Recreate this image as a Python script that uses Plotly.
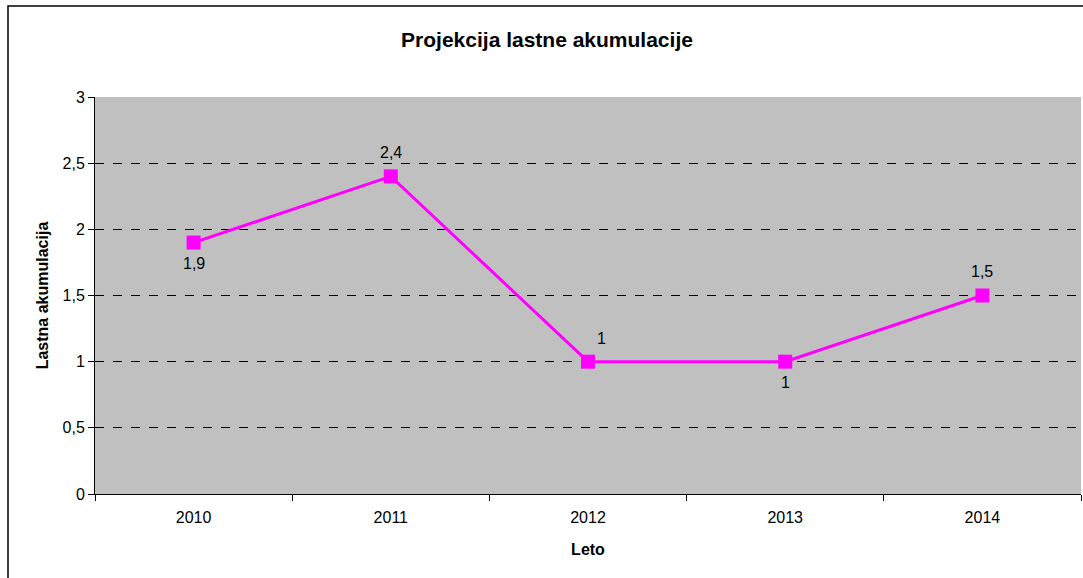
import plotly.graph_objects as go

years = ["2010", "2011", "2012", "2013", "2014"]
values = [1.9, 2.4, 1.0, 1.0, 1.5]
y_ticks = [0, 0.5, 1, 1.5, 2, 2.5, 3]

# label offsets in pixels (style, not data)
label_shifts = [(0, -21), (0, 24), (13, 23), (0, -21), (0, 24)]

labels = [("%g" % v).replace(".", ",") for v in values]
y_ticktext = [("%g" % v).replace(".", ",") for v in y_ticks]

W, H = 1083, 578
L, R, T, B = 95, 2, 97, 84
pw, ph = W - L - R, H - T - B
FONT = "Liberation Sans, Arial, sans-serif"

fig = go.Figure()
fig.add_trace(go.Scatter(
    x=years, y=values, mode="lines+markers",
    line=dict(color="#FF00FF", width=3),
    marker=dict(symbol="square", size=14, color="#FF00FF"),
    cliponaxis=False, showlegend=False, hoverinfo="x+y",
))

for i, (y, t, (dx, dy)) in enumerate(zip(values, labels, label_shifts)):
    fig.add_annotation(x=i, y=y, xref="x", yref="y", text=t, showarrow=False,
                       xshift=dx, yshift=dy,
                       font=dict(family=FONT, size=16, color="black"))

# outer chart border
fig.add_shape(type="rect", xref="paper", yref="paper",
              x0=(8 - L) / pw, x1=(W + 10 - L) / pw,
              y0=(H - B - (H + 10)) / ph, y1=(H - B - 6) / ph,
              line=dict(color="black", width=1.5), fillcolor="rgba(0,0,0,0)", layer="below")

fig.update_layout(
    width=W, height=H,
    margin=dict(l=L, r=R, t=T, b=B),
    paper_bgcolor="white", plot_bgcolor="#C0C0C0",
    font=dict(family=FONT, size=16, color="black"),
    title=dict(text="<b>Projekcija lastne akumulacije</b>", x=547 / W, xanchor="center",
               y=1 - 40 / H, yanchor="middle", font=dict(size=21)),
    xaxis=dict(type="category", tickson="boundaries", ticks="outside", ticklen=6,
               tickcolor="black", showline=True, linecolor="black", linewidth=1,
               showgrid=False, range=[-0.5, 4.5], tickfont=dict(size=16),
               ticklabelstandoff=9,
               title=dict(text="<b>Leto</b>", standoff=18, font=dict(size=16))),
    yaxis=dict(range=[0, 3], tickvals=y_ticks, ticktext=y_ticktext, ticks="outside",
               ticklen=6, tickcolor="black", showline=True, linecolor="black", linewidth=1,
               showgrid=True, gridcolor="black", griddash="dash", gridwidth=1,
               zeroline=False, tickfont=dict(size=16),
               title=dict(text="<b>Lastna akumulacija</b>", standoff=9, font=dict(size=16))),
)

fig.write_html("out.html", config={"displayModeBar": False},
               post_script="document.body.style.margin='0';document.body.style.overflow='hidden';")
